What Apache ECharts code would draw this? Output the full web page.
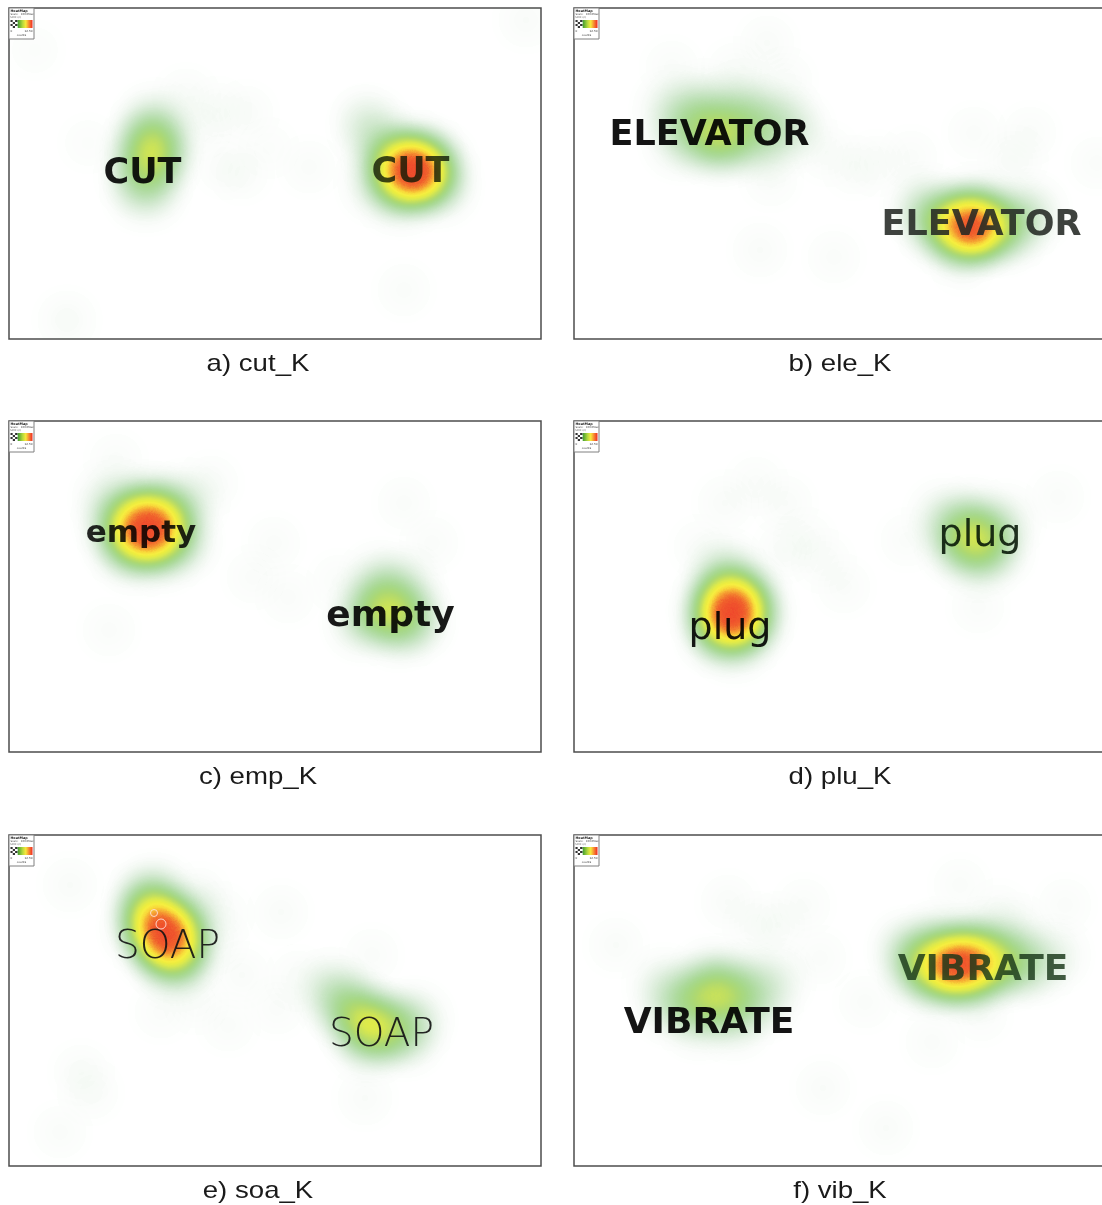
<!DOCTYPE html>
<html><head><meta charset="utf-8">
<script src="https://cdn.jsdelivr.net/npm/echarts@6/dist/echarts.min.js"></script>
<style>html,body{margin:0;padding:0;background:#fff}#c{width:1102px;height:1205px}</style>
</head><body><div id="c"></div>
<script>
// ---------- data (stimulus coordinates: x right, y down, panel 532 x 331) ----------
const captions = ['a) cut_K', 'b) ele_K', 'c) emp_K', 'd) plu_K', 'e) soa_K', 'f) vib_K'];

// fixation points [x, y, weight]
const cutFixations = [
  [405,163,1],[398,160,0.9],[413,166,0.9],[402,172,0.7],[388,165,0.6],[422,160,0.55],[395,148,0.5],
  [412,150,0.45],[380,152,0.35],[428,176,0.35],[392,184,0.35],[372,135,0.2],[360,118,0.15],[370,175,0.2],
  [142,130,0.45],[145,148,0.5],[140,165,0.4],[137,182,0.25],[150,140,0.3],[133,145,0.25],[146,115,0.22],[128,168,0.15],
  [177,89,0.04],[209,102,0.035],[237,105,0.035],[216,159,0.03],[233,165,0.03],[300,159,0.03],[356,112,0.045],
  [58,312,0.045],[395,282,0.03],[517,12,0.035],[26,42,0.025],[79,135,0.025],[190,120,0.03],[260,140,0.025]
];
const eleFixations = [
  [147,132,0.5],[133,128,0.45],[162,128,0.4],[120,112,0.3],[150,110,0.3],[180,112,0.3],[100,102,0.2],
  [205,110,0.2],[130,96,0.2],[170,95,0.18],[220,122,0.15],[108,132,0.2],[190,135,0.25],
  [398,219,1],[390,216,0.85],[406,222,0.85],[395,225,0.6],[380,214,0.55],[416,212,0.5],[370,220,0.4],
  [428,222,0.4],[360,210,0.3],[440,215,0.28],[350,198,0.18],[455,205,0.18],[400,200,0.3],[385,235,0.18],
  [193,35,0.035],[161,62,0.035],[98,59,0.03],[211,72,0.035],[253,145,0.035],[302,155,0.035],[337,149,0.03],
  [400,125,0.03],[439,152,0.045],[456,125,0.03],[523,155,0.03],[197,172,0.03],[186,242,0.035],[260,249,0.03],
  [389,255,0.035],[280,160,0.03]
];
const empFixations = [
  [138,108,1],[130,112,0.9],[146,104,0.85],[140,118,0.7],[124,100,0.6],[154,112,0.6],[116,118,0.45],[162,98,0.45],
  [132,88,0.5],[150,88,0.45],[108,100,0.3],[170,120,0.3],[126,132,0.25],[152,130,0.25],[102,78,0.15],[178,80,0.15],
  [380,192,0.45],[365,188,0.4],[395,190,0.4],[375,175,0.3],[390,205,0.28],[355,200,0.22],[405,200,0.22],
  [372,160,0.18],[395,165,0.18],
  [107,39,0.03],[202,62,0.035],[265,122,0.03],[244,156,0.03],[279,176,0.03],[395,82,0.03],[423,122,0.03],
  [100,209,0.03],[330,160,0.03]
];
const pluFixations = [
  [400,118,0.45],[388,122,0.4],[412,115,0.4],[398,100,0.3],[405,135,0.28],[380,108,0.22],[420,128,0.22],
  [370,95,0.12],[430,100,0.12],
  [158,190,1],[152,196,0.9],[164,186,0.85],[160,202,0.7],[148,178,0.6],[168,175,0.5],[145,210,0.45],[172,205,0.45],
  [155,165,0.4],[140,190,0.4],[178,190,0.35],[160,220,0.25],[150,150,0.18],
  [151,82,0.035],[211,82,0.035],[126,126,0.03],[211,129,0.035],[232,119,0.03],[270,166,0.03],[404,186,0.03],
  [484,76,0.03],[333,119,0.03],[182,62,0.03],[250,140,0.03]
];
const soaFixations = [
  [156,97,1],[150,90,0.9],[160,104,0.85],[145,82,0.7],[165,110,0.6],[152,110,0.55],[140,70,0.45],[170,95,0.45],
  [162,120,0.4],[135,92,0.35],[175,115,0.3],[145,60,0.28],[168,130,0.28],[180,80,0.22],
  [356,187,0.5],[365,192,0.45],[348,180,0.4],[375,195,0.35],[385,190,0.3],[340,170,0.26],[395,200,0.26],
  [360,205,0.26],[330,165,0.18],[405,185,0.18],[320,155,0.12],
  [61,50,0.035],[212,80,0.035],[272,77,0.035],[233,140,0.035],[289,143,0.035],[363,120,0.03],[187,167,0.03],
  [152,177,0.03],[219,190,0.03],[268,173,0.03],[72,237,0.035],[82,257,0.035],[51,297,0.03],[356,263,0.035],
  [324,147,0.045],[205,105,0.045],[190,60,0.035]
];
const vibFixations = [
  [144,160,0.45],[130,166,0.4],[158,166,0.4],[140,146,0.35],[115,160,0.3],[170,150,0.26],[100,170,0.22],
  [185,165,0.22],[125,185,0.18],[160,185,0.18],[90,150,0.12],[200,145,0.12],
  [381,130,1],[393,128,0.95],[370,132,0.8],[405,128,0.75],[360,130,0.55],[418,125,0.55],[388,118,0.6],[378,142,0.5],
  [400,142,0.45],[345,125,0.4],[432,130,0.4],[350,140,0.28],[445,125,0.28],[460,130,0.18],[335,115,0.22],
  [365,108,0.3],[410,108,0.28],[480,120,0.1],[440,100,0.12],
  [42,110,0.035],[154,67,0.035],[204,90,0.035],[246,123,0.03],[291,167,0.03],[386,50,0.03],[425,77,0.035],
  [491,70,0.03],[358,207,0.03],[407,180,0.03],[249,253,0.035],[312,293,0.035],[182,90,0.035],[230,70,0.03]
];

// stimulus words [text, x, y]
const cutWords = [['CUT',133.5,165.5],['CUT',401.5,165]];
const eleWords = [['ELEVATOR',135.5,127.5],['ELEVATOR',407.5,217.5]];
const empWords = [['empty',132,113],['empty',381.5,196]];
const pluWords = [['plug',156,208],['plug',406,115]];
const soaWords = [['SOAP',158.5,113],['SOAP',372.5,201]];
const vibWords = [['VIBRATE',135,189],['VIBRATE',409,136]];
// soap bubbles [x, y, diameter]
const soapBubbles = [[145,78,7],[152,89,10]];

const fixations = [cutFixations, eleFixations, empFixations, pluFixations, soaFixations, vibFixations];
const words = [cutWords, eleWords, empWords, pluWords, soaWords, vibWords];

// ---------- styles / layout ----------
const PW = 532, PH = 331;
const origins = [[9,8],[574,8],[9,421],[574,421],[9,835],[574,835]];
const captionCenters = [258, 840, 258, 840, 258, 840];
const B = 'DejaVu Sans';
const wordStyles = [
  [{fontFamily:B,fontWeight:'bold',fontSize:35,color:'rgba(0,0,0,0.9)'},
   {fontFamily:B,fontWeight:'bold',fontSize:35,color:'rgba(15,25,5,0.8)'}],
  [{fontFamily:B,fontWeight:'bold',fontSize:35,color:'rgba(0,0,0,0.92)'},
   {fontFamily:B,fontWeight:'bold',fontSize:35,color:'rgba(35,40,35,0.88)'}],
  [{fontFamily:B,fontWeight:'bold',fontSize:31,color:'rgba(0,0,0,0.85)'},
   {fontFamily:B,fontWeight:'bold',fontSize:36,color:'rgba(0,0,0,0.9)'}],
  [{fontFamily:B,fontWeight:'normal',fontSize:38,color:'rgba(0,0,0,0.9)'},
   {fontFamily:B,fontWeight:'normal',fontSize:38,color:'rgba(5,20,5,0.88)'}],
  [{fontFamily:B,fontWeight:200,fontSize:39,color:'rgba(20,20,20,0.92)'},
   {fontFamily:B,fontWeight:200,fontSize:39,color:'rgba(20,20,20,0.92)'}],
  [{fontFamily:B,fontWeight:'bold',fontSize:36,color:'rgba(0,0,0,0.92)'},
   {fontFamily:B,fontWeight:'bold',fontSize:36,color:'rgba(25,55,25,0.82)'}]
];
const heatColors = ['#2a8a2a','#2f902c','#34962e','#3a9c30','#40a232','#46a834','#4dad35','#55b236',
  '#5eb737','#6abd38','#7ac339','#8ec93a','#a6d23c','#bedc3d','#d6e63e','#e8ec3f','#f6ee40','#f8d83a',
  '#f5a232','#f0602c','#ee3a2c'];

echarts.registerMap('panelBox', {
  type: 'FeatureCollection',
  features: [{type:'Feature', properties:{name:'box'},
    geometry:{type:'Polygon', coordinates:[[[0,0],[PW,0],[PW,PH],[0,PH],[0,0]]]}}]
});

const chart = echarts.init(document.getElementById('c'), null, {renderer:'canvas'});

const geos = origins.map(o => ({
  map: 'panelBox',
  projection: {project: p => [p[0], p[1]], unproject: p => [p[0], p[1]]},
  left: o[0], top: o[1], width: PW, height: PH,
  aspectScale: 1, roam: false, silent: true,
  label: {show: false},
  itemStyle: {areaColor: '#ffffff', borderColor: '#4d4d4d', borderWidth: 1.5},
  emphasis: {disabled: true}, select: {disabled: true}
}));

const series = [];
fixations.forEach((pts, i) => series.push({
  type: 'heatmap', coordinateSystem: 'geo', geoIndex: i, data: pts,
  pointSize: 20, blurSize: 30, maxOpacity: 1.3, minOpacity: 0, z: 2, silent: true
}));
words.forEach((ws, i) => series.push({
  type: 'scatter', coordinateSystem: 'geo', geoIndex: i, symbolSize: 1, z: 4, silent: true,
  itemStyle: {color: 'rgba(0,0,0,0)', opacity: 1},
  label: {show: true, position: 'inside', formatter: '{b}', opacity: 1},
  data: ws.map((w, j) => ({name: w[0], value: [w[1], w[2]],
    label: Object.assign({opacity: 1}, wordStyles[i][j])}))
}));
series.push({
  type: 'scatter', coordinateSystem: 'geo', geoIndex: 4, z: 5, silent: true,
  symbol: 'circle', symbolSize: v => v[2],
  itemStyle: {color: 'rgba(0,0,0,0)', borderColor: 'rgba(255,225,220,0.9)', borderWidth: 1, opacity: 1},
  data: soapBubbles
});

// captions and small heat-map legend badges
const graphic = [];
origins.forEach((o, i) => {
  graphic.push({
    type: 'text', x: captionCenters[i], y: o[1] + PH + 25, scaleX: 1.15, z: 100,
    style: {text: captions[i], fontFamily: 'Liberation Sans, Arial', fontSize: 24, fill: '#1a1a1a',
      align: 'center', verticalAlign: 'middle'}
  });
  const kids = [
    {type:'rect', shape:{x:0, y:0, width:25, height:31}, style:{fill:'#fff', stroke:'#808080', lineWidth:1}},
    {type:'text', x:1.5, y:1.2, style:{text:'HeatMap', fontSize:3.4, fontWeight:'bold', fill:'#222', fontFamily:'DejaVu Sans'}},
    {type:'text', x:1.5, y:5, style:{text:'Scale:   100.0Max', fontSize:2.6, fill:'#444', fontFamily:'DejaVu Sans'}},
    {type:'text', x:1.5, y:8, style:{text:'Unit: (c)', fontSize:2.6, fill:'#444', fontFamily:'DejaVu Sans'}},
    {type:'rect', shape:{x:8.5, y:12, width:15, height:8}, style:{fill:new echarts.graphic.LinearGradient(0,0,1,0,[
      {offset:0, color:'#3a9a30'},{offset:0.35, color:'#b8da3d'},{offset:0.55, color:'#f8e83c'},
      {offset:0.8, color:'#f57a30'},{offset:1, color:'#ee2a22'}])}},
    {type:'text', x:1.5, y:21.5, style:{text:'0', fontSize:2.8, fill:'#333', fontFamily:'DejaVu Sans'}},
    {type:'text', x:23.5, y:21.5, style:{text:'12.50', fontSize:2.8, fill:'#333', align:'right', fontFamily:'DejaVu Sans'}},
    {type:'text', x:12.5, y:26, style:{text:'counts', fontSize:2.8, fill:'#333', align:'center', fontFamily:'DejaVu Sans'}}
  ];
  for (let r = 0; r < 4; r++) for (let c = 0; c < 3; c++) {
    kids.push({type:'rect', shape:{x:1.5 + c * 2.3, y:12 + r * 2, width:2.3, height:2},
      style:{fill: (r + c) % 2 ? '#ffffff' : '#333333'}});
  }
  kids.forEach(k => { k.z = 100; });
  graphic.push({type:'group', x:o[0], y:o[1], z:100, silent:true, children:kids});
});

chart.setOption({
  animation: false,
  backgroundColor: '#ffffff',
  geo: geos,
  visualMap: [{
    type: 'continuous', show: false, min: 0, max: 1, calculable: false,
    seriesIndex: [0,1,2,3,4,5],
    inRange: {color: heatColors}
  }],
  series: series,
  graphic: graphic
});
</script></body></html>
